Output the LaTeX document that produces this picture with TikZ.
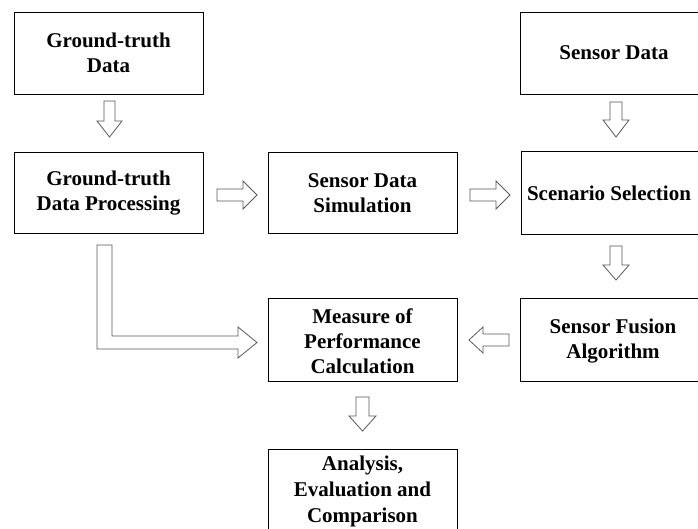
\documentclass[tikz,border=0pt]{standalone}
\usepackage{fontspec}
\setmainfont{Liberation Serif}
\begin{document}
\begin{tikzpicture}[x=1pt,y=-1pt,
  box/.style={draw=black,line width=1pt,fill=white},
  lbl/.style={align=center,font=\fontsize{21}{25}\selectfont\bfseries,inner sep=0pt},
  barrow/.style={draw=black!65,line width=0.8pt,fill=white,line join=miter}]
\useasboundingbox (0,0) rectangle (698,528);
\clip (0,0) rectangle (698,528);
% boxes
\draw[box] (14,12) rectangle (203,94);
\node[lbl] (gt) at (108.5,53) {Ground-truth\\Data};
\draw[box] (520,12) rectangle (708,94);
\node[lbl] (sd) at (614,53) {Sensor Data};
\draw[box] (14,152) rectangle (203,233);
\node[lbl] (gtp) at (108.5,193) {Ground-truth\\Data Processing};
\draw[box] (268,152) rectangle (457,233);
\node[lbl] (sim) at (362.5,193) {Sensor Data\\Simulation};
\draw[box] (521,151) rectangle (710,234);
\node[lbl] (sc) at (609,193) {Scenario Selection};
\draw[box] (268,298) rectangle (457,381);
\node[lbl] (mp) at (362.5,341) {Measure of\\Performance\\Calculation};
\draw[box] (520,298) rectangle (708,381);
\node[lbl] (sf) at (613,341) {Sensor Fusion\\Algorithm};
\draw[box] (268,449) rectangle (457,540);
\node[lbl,font=\fontsize{21}{26}\selectfont\bfseries] (an) at (362.5,491) {Analysis,\\Evaluation and\\Comparison};
% block arrows
% GT data -> GT processing
\draw[barrow] (104,101) -- (115,101) -- (115,121) -- (122,121) -- (109.5,137) -- (97,121) -- (104,121) -- cycle;
% Sensor data -> scenario
\draw[barrow] (610,102) -- (622,102) -- (622,120) -- (629,120) -- (616,137) -- (603,120) -- (610,120) -- cycle;
% Scenario -> fusion
\draw[barrow] (610,246) -- (622,246) -- (622,265) -- (629,265) -- (616,280) -- (603,265) -- (610,265) -- cycle;
% Measure -> analysis
\draw[barrow] (356,397) -- (369,397) -- (369,416) -- (376,416) -- (362.5,431) -- (349,416) -- (356,416) -- cycle;
% GT proc -> sim
\draw[barrow] (217,189) -- (243,189) -- (243,181) -- (257,195) -- (243,209) -- (243,201) -- (217,201) -- cycle;
% sim -> scenario
\draw[barrow] (470,189) -- (496,189) -- (496,181) -- (510,195) -- (496,209) -- (496,201) -- (470,201) -- cycle;
% fusion -> measure
\draw[barrow] (509,334) -- (483,334) -- (483,327) -- (469,340) -- (483,353) -- (483,346) -- (509,346) -- cycle;
% L-shaped: GT proc -> measure
\draw[barrow] (97,245) -- (112,245) -- (112,336) -- (238,336) -- (238,327) -- (257,342.5) -- (238,358) -- (238,349) -- (97,349) -- cycle;
\end{tikzpicture}
\end{document}
